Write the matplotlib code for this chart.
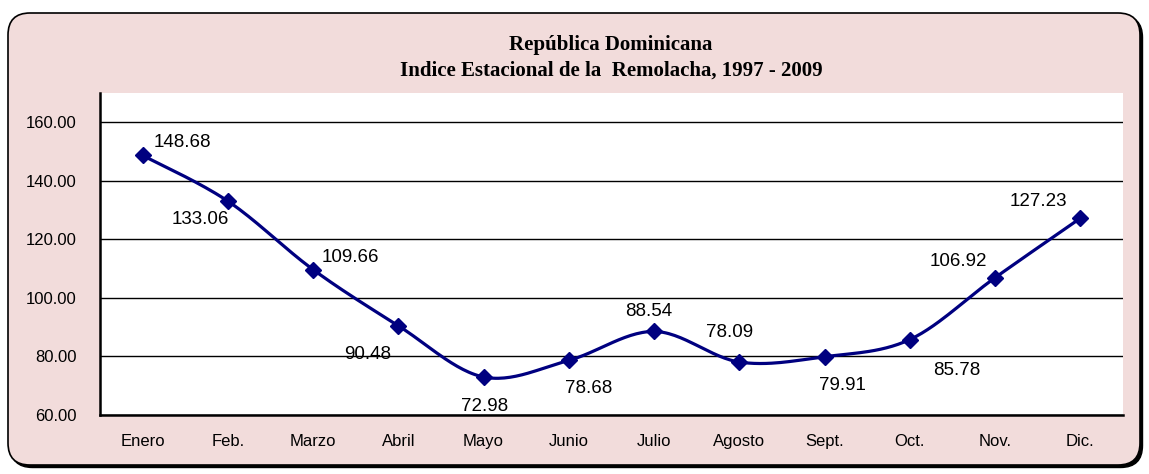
import matplotlib
matplotlib.use("Agg")
import matplotlib.pyplot as plt
import numpy as np
from matplotlib.patches import FancyBboxPatch

#data
meses = ["Enero", "Feb.", "Marzo", "Abril", "Mayo", "Junio",
         "Julio", "Agosto", "Sept.", "Oct.", "Nov.", "Dic."]
indice = [148.68, 133.06, 109.66, 90.48, 72.98, 78.68,
          88.54, 78.09, 79.91, 85.78, 106.92, 127.23]
#label offsets in pixels from each marker (where Excel put them)
offsets = [(40, 13), (-28, -18), (37, 12), (-31, -29), (1, -29), (20, -28),
           (-5, 20), (-10, 30), (18, -29), (47, -31), (-37, 16), (-42, 17)]

PINK = "#F2DCDB"
NAVY = "#000080"

#Catmull-Rom smoothing, similar to Excel "smoothed line"
def smooth(x, y, n=30):
    x = np.asarray(x, float)
    y = np.asarray(y, float)
    px = np.concatenate([[x[0]], x, [x[-1]]])
    py = np.concatenate([[y[0]], y, [y[-1]]])
    xs, ys = [], []
    t = np.linspace(0, 1, n)
    for i in range(1, len(px) - 2):
        p0 = np.array([px[i], py[i]])
        p3 = np.array([px[i + 1], py[i + 1]])
        p1 = p0 + (p3 - np.array([px[i - 1], py[i - 1]])) / 6
        p2 = p3 - (np.array([px[i + 2], py[i + 2]]) - p0) / 6
        b = ((1 - t) ** 3)[:, None] * p0 + (3 * (1 - t) ** 2 * t)[:, None] * p1 \
            + (3 * (1 - t) * t ** 2)[:, None] * p2 + (t ** 3)[:, None] * p3
        xs.extend(b[:, 0])
        ys.extend(b[:, 1])
    return xs, ys

plt.rcParams['font.family'] = ['Liberation Sans', 'DejaVu Sans']

fig = plt.figure(figsize=(11.49, 4.74), dpi=100)
fig.patch.set_facecolor("white")

#rounded frame with shadow (kept behind the axes)
shadow = FancyBboxPatch((0.105, 0.065), 11.32, 4.52, boxstyle="round,pad=0,rounding_size=0.22",
                        transform=fig.dpi_scale_trans, facecolor="black", edgecolor="black", lw=1,
                        zorder=-2)
frame = FancyBboxPatch((0.08, 0.09), 11.32, 4.52, boxstyle="round,pad=0,rounding_size=0.22",
                       transform=fig.dpi_scale_trans, facecolor=PINK, edgecolor="black", lw=1.2,
                       zorder=-1)
fig.patches.extend([shadow, frame])

ax = fig.add_axes([100 / 1149, 1 - 415 / 474, 1023 / 1149, 322 / 474])
ax.set_facecolor("white")

x = np.arange(len(meses))
sx, sy = smooth(x, indice)
ax.plot(sx, sy, color=NAVY, lw=2.3, zorder=3)
ax.plot(x, indice, linestyle="none", marker="D", markersize=8, color=NAVY, zorder=4)

for xi, v, (dx, dy) in zip(x, indice, offsets):
    ax.annotate("%.2f" % v, xy=(xi, v), xytext=(dx, dy), textcoords="offset pixels",
                ha="center", va="center", fontsize=13.5, color="black", zorder=5)

ax.set_xlim(-0.5, 11.5)
ax.set_ylim(60, 170)
ax.set_yticks([60, 80, 100, 120, 140, 160])
ax.set_yticklabels(["%.2f" % t for t in [60, 80, 100, 120, 140, 160]], fontsize=12)
ax.set_xticks(x)
ax.set_xticklabels(meses, fontsize=12)
ax.tick_params(axis="both", length=0)
ax.tick_params(axis="y", pad=17)
ax.tick_params(axis="x", pad=14)
ax.grid(axis="y", color="black", lw=1)
ax.set_axisbelow(True)
for s in ["top", "right"]:
    ax.spines[s].set_visible(False)
for s in ["left", "bottom"]:
    ax.spines[s].set_linewidth(1.8)
    ax.spines[s].set_color("black")

fig.text(611 / 1149, 1 - 45 / 474, "República Dominicana", ha="center", va="center",
         fontsize=15, fontweight="bold", family="Liberation Serif")
fig.text(611 / 1149, 1 - 71 / 474, "Indice Estacional de la  Remolacha, 1997 - 2009", ha="center",
         va="center", fontsize=15, fontweight="bold", family="Liberation Serif")

fig.savefig("out.png", dpi=100, facecolor="white")
